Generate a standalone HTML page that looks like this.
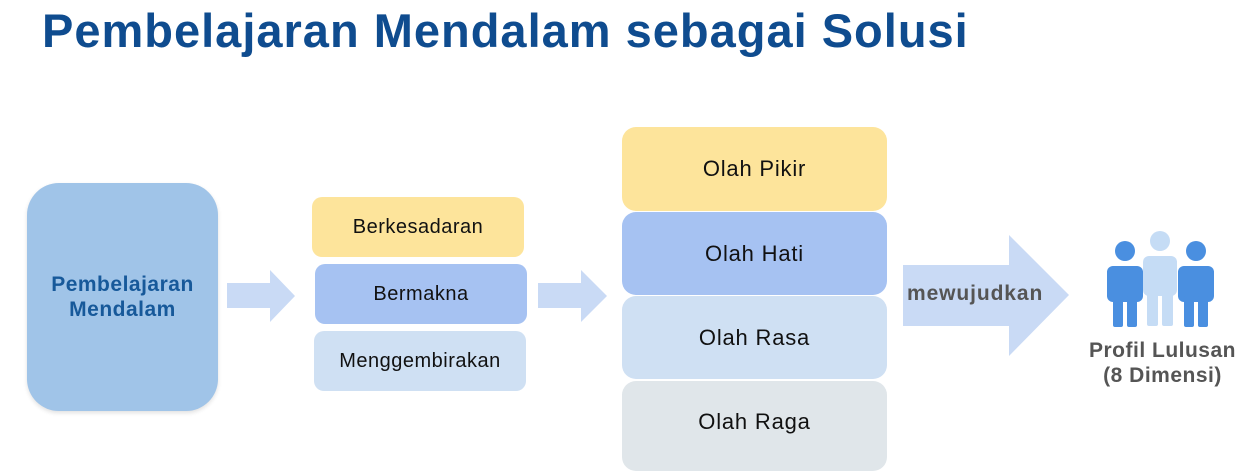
<!DOCTYPE html>
<html><head><meta charset="utf-8"><style>
body{margin:0;width:1245px;height:459px;overflow:hidden;background:#fff;font-family:"Liberation Sans",sans-serif;position:relative}
.a{position:absolute;display:flex;align-items:center;justify-content:center;text-align:center;color:#111}
h1{position:absolute;left:42px;top:3px;margin:0;font-size:47px;font-weight:bold;color:#0f4c8f;letter-spacing:1px;white-space:nowrap}
.s{font-size:20px;letter-spacing:0.5px}
.b{font-size:22px;letter-spacing:0.8px}
</style></head><body>
<h1>Pembelajaran Mendalam sebagai Solusi</h1>
<div class="a" style="left:27px;top:183px;width:191px;height:228px;border-radius:32px;background:#a0c4e8;box-shadow:0 2px 4px rgba(0,0,0,0.12);color:#17599a;font-weight:bold;font-size:21px;letter-spacing:0.5px;line-height:25px">Pembelajaran<br>Mendalam</div>
<svg style="position:absolute;left:0;top:0" width="1245" height="459">
<polygon points="227,283 270,283 270,270 295,296 270,322 270,308 227,308" fill="#c9daf5"/>
<polygon points="538,283 581,283 581,270 607,296 581,322 581,308 538,308" fill="#c9daf5"/>
<polygon points="903,265 1009,265 1009,235 1069,295 1009,356 1009,326 903,326" fill="#c9daf5"/>
<circle cx="1160" cy="241" r="10" fill="#c5dcf5"/>
<rect x="1143" y="256" width="34" height="40" rx="6" fill="#c5dcf5"/>
<rect x="1147" y="290" width="11" height="36" rx="2" fill="#c5dcf5"/>
<rect x="1162" y="290" width="11" height="36" rx="2" fill="#c5dcf5"/>
<circle cx="1125" cy="251" r="10" fill="#4a8fe0"/>
<rect x="1107" y="266" width="36" height="36" rx="6" fill="#4a8fe0"/>
<rect x="1113" y="295" width="10" height="32" rx="2" fill="#4a8fe0"/>
<rect x="1127" y="295" width="10" height="32" rx="2" fill="#4a8fe0"/>
<circle cx="1196" cy="251" r="10" fill="#4a8fe0"/>
<rect x="1178" y="266" width="36" height="36" rx="6" fill="#4a8fe0"/>
<rect x="1184" y="295" width="10" height="32" rx="2" fill="#4a8fe0"/>
<rect x="1198" y="295" width="10" height="32" rx="2" fill="#4a8fe0"/>
</svg>
<div class="a s" style="left:312px;top:197px;width:212px;height:60px;border-radius:10px;background:#fde49b">Berkesadaran</div>
<div class="a s" style="left:315px;top:264px;width:212px;height:60px;border-radius:10px;background:#a6c2f2">Bermakna</div>
<div class="a s" style="left:314px;top:331px;width:212px;height:60px;border-radius:10px;background:#cfe0f3">Menggembirakan</div>
<div class="a b" style="left:622px;top:127px;width:265px;height:84px;border-radius:14px;background:#fde49b">Olah Pikir</div>
<div class="a b" style="left:622px;top:212px;width:265px;height:83px;border-radius:14px;background:#a6c2f2">Olah Hati</div>
<div class="a b" style="left:622px;top:296px;width:265px;height:83px;border-radius:14px;background:#cfe0f3">Olah Rasa</div>
<div class="a b" style="left:622px;top:381px;width:265px;height:90px;border-radius:14px;background:#e0e6ea;padding-bottom:8px;box-sizing:border-box">Olah Raga</div>
<div class="a" style="left:903px;top:279px;width:160px;height:30px;justify-content:flex-start;padding-left:4px;font-weight:bold;font-size:21px;letter-spacing:0.9px;color:#555;white-space:nowrap">mewujudkan</div>
<div class="a" style="left:1075px;top:336px;width:175px;height:54px;font-weight:bold;font-size:21px;letter-spacing:0.5px;line-height:25px;color:#555">Profil Lulusan<br>(8 Dimensi)</div>
</body></html>
